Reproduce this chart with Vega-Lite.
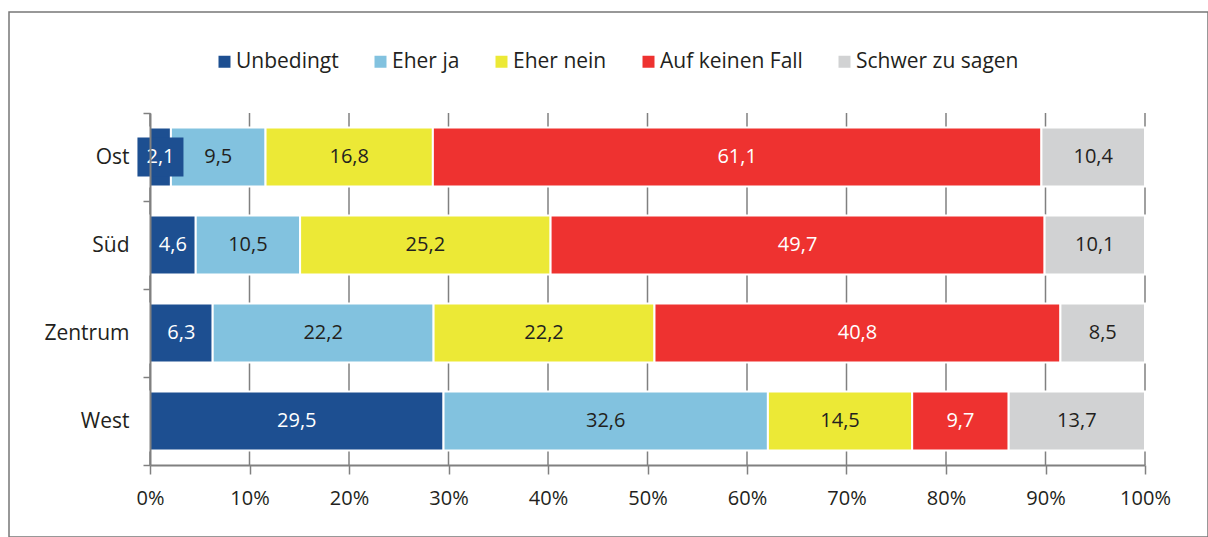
{
  "$schema": "https://vega.github.io/schema/vega-lite/v6.json",
  "width": 1199,
  "height": 525,
  "autosize": {"type": "none"},
  "padding": {"left": 9, "top": 12, "right": 0, "bottom": 0},
  "background": "white",
  "config": {
    "locale": {"number": {"decimal": ",", "thousands": ".", "grouping": [3], "currency": ["", " €"]}},
    "view": {"stroke": "#777777", "strokeWidth": 1.5},
    "font": "Open Sans"
  },
  "datasets": {
    "survey": [
      {"region": "Ost", "cat": "Unbedingt", "o": 1, "value": 2.1},
      {"region": "Ost", "cat": "Eher ja", "o": 2, "value": 9.5},
      {"region": "Ost", "cat": "Eher nein", "o": 3, "value": 16.8},
      {"region": "Ost", "cat": "Auf keinen Fall", "o": 4, "value": 61.1},
      {"region": "Ost", "cat": "Schwer zu sagen", "o": 5, "value": 10.4},
      {"region": "Süd", "cat": "Unbedingt", "o": 1, "value": 4.6},
      {"region": "Süd", "cat": "Eher ja", "o": 2, "value": 10.5},
      {"region": "Süd", "cat": "Eher nein", "o": 3, "value": 25.2},
      {"region": "Süd", "cat": "Auf keinen Fall", "o": 4, "value": 49.7},
      {"region": "Süd", "cat": "Schwer zu sagen", "o": 5, "value": 10.1},
      {"region": "Zentrum", "cat": "Unbedingt", "o": 1, "value": 6.3},
      {"region": "Zentrum", "cat": "Eher ja", "o": 2, "value": 22.2},
      {"region": "Zentrum", "cat": "Eher nein", "o": 3, "value": 22.2},
      {"region": "Zentrum", "cat": "Auf keinen Fall", "o": 4, "value": 40.8},
      {"region": "Zentrum", "cat": "Schwer zu sagen", "o": 5, "value": 8.5},
      {"region": "West", "cat": "Unbedingt", "o": 1, "value": 29.5},
      {"region": "West", "cat": "Eher ja", "o": 2, "value": 32.6},
      {"region": "West", "cat": "Eher nein", "o": 3, "value": 14.5},
      {"region": "West", "cat": "Auf keinen Fall", "o": 4, "value": 9.7},
      {"region": "West", "cat": "Schwer zu sagen", "o": 5, "value": 13.7}
    ],
    "gridticks": [
      {"t": 0}, {"t": 0.1}, {"t": 0.2}, {"t": 0.3}, {"t": 0.4}, {"t": 0.5},
      {"t": 0.6}, {"t": 0.7}, {"t": 0.8}, {"t": 0.9}, {"t": 1}
    ]
  },
  "resolve": {"scale": {"y": "independent"}, "axis": {"y": "independent"}},
  "layer": [
    {
      "data": {"name": "gridticks"},
      "mark": {"type": "rule", "color": "#808080", "strokeWidth": 1.5},
      "encoding": {
        "x": {"field": "t", "type": "quantitative"},
        "y": {"datum": 0, "type": "quantitative", "scale": {"domain": [0, 1], "range": [101, 453], "nice": false, "zero": false}, "axis": null},
        "y2": {"datum": 1}
      }
    },
    {
      "data": {"name": "survey"},
      "transform": [
        {"stack": "value", "groupby": ["region"], "sort": [{"field": "o", "order": "ascending"}], "offset": "normalize", "as": ["v0", "v1"]},
        {"fold": ["v0", "v1"], "as": ["k", "pos"]},
        {"aggregate": [{"op": "mean", "field": "pos", "as": "mid"}, {"op": "min", "field": "pos", "as": "lo"}, {"op": "max", "field": "pos", "as": "hi"}], "groupby": ["region", "cat", "value"]}
      ],
      "encoding": {
        "y": {
          "field": "region",
          "type": "nominal",
          "sort": ["Ost", "Süd", "Zentrum", "West"],
          "scale": {"range": [101, 453], "paddingInner": 0, "paddingOuter": 0},
          "axis": {
            "title": null,
            "offset": -141,
            "tickBand": "extent",
            "domainColor": "#808080",
            "domainWidth": 2,
            "tickColor": "#808080",
            "tickSize": 7,
            "tickWidth": 1.5,
            "labelFontSize": 21,
            "labelFont": "Open Sans",
            "labelColor": "#231f20",
            "labelPadding": 14,
            "zindex": 1
          }
        }
      },
      "layer": [
        {
          "mark": {"type": "bar", "stroke": "white", "strokeWidth": 2, "height": {"band": 0.67}},
          "encoding": {
            "x": {
              "field": "lo",
              "type": "quantitative",
              "scale": {"domain": [0, 1], "range": [141, 1136], "nice": false, "zero": false},
              "axis": {
                "title": null,
                "format": ".0%",
                "values": [0, 0.1, 0.2, 0.3, 0.4, 0.5, 0.6, 0.7, 0.8, 0.9, 1],
                "offset": -72,
                "grid": false,
                "domainColor": "#808080",
                "domainWidth": 2,
                "tickColor": "#808080",
                "tickSize": 9,
                "tickWidth": 1.5,
                "labelFontSize": 20,
                "labelFont": "Open Sans",
                "labelColor": "#231f20",
                "labelPadding": 14,
                "labelFlush": false,
                "labelOverlap": false
              }
            },
            "x2": {"field": "hi"},
            "color": {
              "field": "cat",
              "type": "nominal",
              "scale": {
                "domain": ["Unbedingt", "Eher ja", "Eher nein", "Auf keinen Fall", "Schwer zu sagen"],
                "range": ["#1d4f91", "#82c2df", "#ece936", "#ee3230", "#d1d2d3"]
              },
              "legend": {
                "orient": "none",
                "legendX": 205,
                "legendY": 39,
                "direction": "horizontal",
                "columns": 5,
                "title": null,
                "symbolType": "square",
                "symbolSize": 144,
                "symbolStrokeWidth": 0,
                "labelFontSize": 21,
                "labelFont": "Open Sans",
                "labelColor": "#231f20",
                "labelLimit": 0,
                "labelOffset": 1,
                "columnPadding": 31,
                "padding": 0
              }
            }
          }
        },
        {
          "transform": [
            {"filter": "datum.region === 'Ost' && datum.cat === 'Unbedingt'"}
          ],
          "mark": {"type": "point", "shape": "M-1.18,-1L1.18,-1L1.18,1L-1.18,1Z", "filled": true, "size": 1521, "color": "#1d4f91", "opacity": 1, "strokeWidth": 0},
          "encoding": {
            "x": {"field": "mid", "type": "quantitative"}
          }
        },
        {
          "mark": {"type": "text", "fontSize": 20, "font": "Open Sans"},
          "encoding": {
            "x": {"field": "mid", "type": "quantitative"},
            "text": {"field": "value", "type": "quantitative", "format": ".1f"},
            "color": {
              "condition": {"test": "datum.cat === 'Unbedingt' || datum.cat === 'Auf keinen Fall'", "value": "white"},
              "value": "#231f20"
            }
          }
        }
      ]
    }
  ]
}
